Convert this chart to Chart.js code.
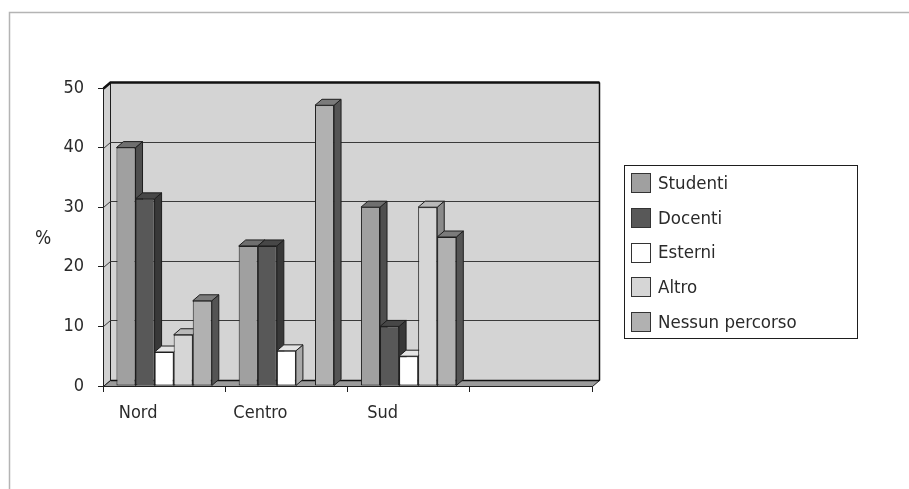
<!DOCTYPE html>
<html>
<head>
<meta charset="utf-8">
<title>Percorsi per area geografica</title>
<script src="https://cdn.jsdelivr.net/npm/chart.js@4.4.1/dist/chart.umd.min.js"></script>
<style>
  html, body { margin: 0; padding: 0; background: #ffffff; }
  #wrap { width: 909px; height: 489px; }
</style>
</head>
<body>
<div id="wrap"><canvas id="chart" width="909" height="489"></canvas></div>
<script>
// Categories and series (percentages)
const categories = ['Nord', 'Centro', 'Sud', ''];
const seriesNames = ['Studenti', 'Docenti', 'Esterni', 'Altro', 'Nessun percorso'];
const studenti = [40, 23.5, 30, null];
const docenti = [31.4, 23.5, 10, null];
const esterni = [5.7, 5.9, 5, null];
const altro = [8.6, 0, 30, null];
const nessunPercorso = [14.3, 47.1, 25, null];
const yTicks = [0, 10, 20, 30, 40, 50];
const yAxisLabel = '%';

// Shading for each series: front, top and side faces of the 3D columns
const frontColors = ['#a0a0a0', '#585858', '#ffffff', '#d6d6d6', '#b1b1b1'];
const topColors   = ['#6f6f6f', '#474747', '#e4e4e4', '#b9b9b9', '#7b7b7b'];
const sideColors  = ['#4e4e4e', '#383838', '#a9a9a9', '#8a8a8a', '#545454'];

const FONT = '"Liberation Sans Narrow", "DejaVu Sans Condensed", "Liberation Sans", sans-serif';
const DX = 7, DY = 6;           // depth of the 3D projection
const LINE = '#1e1e1e';
const TEXT = '#2a2a2a';

const seriesValues = [studenti, docenti, esterni, altro, nessunPercorso];

function poly(ctx, pts, fill, stroke) {
  ctx.beginPath();
  ctx.moveTo(pts[0][0], pts[0][1]);
  for (let i = 1; i < pts.length; i++) ctx.lineTo(pts[i][0], pts[i][1]);
  ctx.closePath();
  if (fill) { ctx.fillStyle = fill; ctx.fill(); }
  if (stroke) { ctx.strokeStyle = stroke; ctx.lineWidth = 1; ctx.stroke(); }
}

// Outer frame of the figure
const framePlugin = {
  id: 'frame',
  beforeDraw(chart) {
    const ctx = chart.ctx;
    ctx.save();
    ctx.strokeStyle = '#b4b4b4';
    ctx.lineWidth = 1.5;
    ctx.beginPath();
    ctx.moveTo(9.5, chart.height);
    ctx.lineTo(9.5, 12.5);
    ctx.lineTo(chart.width, 12.5);
    ctx.stroke();
    ctx.restore();
  }
};

// Walls, floor and the hidden faces of each column
const box3dPlugin = {
  id: 'box3d',
  beforeDatasetsDraw(chart) {
    const ctx = chart.ctx;
    const ys = chart.scales.y;
    const a = chart.chartArea;
    const L = a.left + 0.5, R = a.right + 0.5;
    const T = ys.getPixelForValue(50) + 0.5;
    const B = ys.getPixelForValue(0) + 0.5;
    ctx.save();

    // side wall
    poly(ctx, [[L, T], [L + DX, T - DY], [L + DX, B - DY], [L, B]], '#d0d0d0', LINE);
    // back wall
    poly(ctx, [[L + DX, T - DY], [R + DX, T - DY], [R + DX, B - DY], [L + DX, B - DY]], '#d4d4d4', LINE);

    // gridlines on the back wall and side wall
    ctx.strokeStyle = '#3a3a3a';
    ctx.lineWidth = 1;
    yTicks.forEach(v => {
      if (v === 0 || v === 50) return;
      const y = Math.round(ys.getPixelForValue(v)) + 0.5;
      ctx.beginPath();
      ctx.moveTo(L, y);
      ctx.lineTo(L + DX, y - DY);
      ctx.lineTo(R + DX, y - DY);
      ctx.stroke();
    });

    // heavy top edge of the back wall
    ctx.strokeStyle = '#111111';
    ctx.lineWidth = 2.5;
    ctx.beginPath();
    ctx.moveTo(L, T);
    ctx.lineTo(L + DX, T - DY);
    ctx.lineTo(R + DX, T - DY);
    ctx.stroke();
    ctx.lineWidth = 1.5;
    ctx.beginPath();
    ctx.moveTo(R + DX, T - DY);
    ctx.lineTo(R + DX, B - DY);
    ctx.stroke();

    // floor
    poly(ctx, [[L, B], [L + DX, B - DY], [R + DX, B - DY], [R, B]], '#9b9b9b', LINE);
    ctx.strokeStyle = '#111';
    ctx.lineWidth = 1.5;
    ctx.beginPath();
    ctx.moveTo(L + DX, B - DY);
    ctx.lineTo(R + DX, B - DY);
    ctx.stroke();

    // top and side faces, left to right, so each column covers its left neighbour
    const n = categories.length;
    for (let j = 0; j < n; j++) {
      chart.data.datasets.forEach((ds, i) => {
        const meta = chart.getDatasetMeta(i);
        const el = meta.data[j];
        const v = ds.data[j];
        if (!el || v === null || v === 0) return;
        const x0 = el.x - el.width / 2, x1 = el.x + el.width / 2;
        const yt = el.y, yb = el.base;
        poly(ctx, [[x1, yt], [x1 + DX, yt - DY], [x1 + DX, yb - DY], [x1, yb]], sideColors[i], LINE);
        poly(ctx, [[x0, yt], [x0 + DX, yt - DY], [x1 + DX, yt - DY], [x1, yt]], topColors[i], LINE);
      });
    }
    ctx.restore();
  },
  afterDraw(chart) {
    const ctx = chart.ctx;
    ctx.save();
    // y axis unit
    ctx.fillStyle = TEXT;
    ctx.font = '19px ' + FONT;
    ctx.textAlign = 'center';
    ctx.textBaseline = 'middle';
    ctx.fillText(yAxisLabel, 43, 239);

    // legend box
    const lx = 624.5, ly = 165.5, lw = 233, lh = 173;
    ctx.fillStyle = '#ffffff';
    ctx.fillRect(lx, ly, lw, lh);
    ctx.strokeStyle = LINE;
    ctx.lineWidth = 1;
    ctx.strokeRect(lx, ly, lw, lh);
    ctx.textAlign = 'left';
    ctx.font = '18.5px ' + FONT;
    chart.data.datasets.forEach((ds, i) => {
      const cy = 183 + i * 34.8;
      ctx.fillStyle = frontColors[i];
      ctx.fillRect(631.5, Math.round(cy - 10) + 0.5, 19, 19);
      ctx.strokeStyle = '#333';
      ctx.strokeRect(631.5, Math.round(cy - 10) + 0.5, 19, 19);
      ctx.fillStyle = TEXT;
      ctx.fillText(ds.label, 658, cy + 1);
    });
    ctx.restore();
  }
};

const datasets = seriesNames.map((name, i) => ({
  label: name,
  data: seriesValues[i],
  backgroundColor: frontColors[i],
  borderColor: LINE,
  borderWidth: 1,
  borderSkipped: false,
  categoryPercentage: 0.78,
  barPercentage: 1.0
}));

new Chart(document.getElementById('chart'), {
  type: 'bar',
  data: { labels: categories, datasets },
  options: {
    responsive: false,
    animation: false,
    devicePixelRatio: 1,
    layout: { padding: { left: 0, right: 317, top: 88, bottom: 43 } },
    plugins: {
      legend: { display: false },
      tooltip: { enabled: false }
    },
    scales: {
      y: {
        min: 0,
        max: 50,
        afterFit(scale) { scale.width = 103; },
        afterBuildTicks(scale) { scale.ticks = yTicks.map(v => ({ value: v })); },
        ticks: { color: TEXT, padding: 14, font: { family: FONT, size: 18 } },
        grid: { drawOnChartArea: false, tickLength: 5, color: LINE },
        border: { color: LINE }
      },
      x: {
        afterFit(scale) { scale.height = 60; },
        ticks: { color: TEXT, padding: 11, labelOffset: -26, font: { family: FONT, size: 18 } },
        grid: { drawOnChartArea: false, tickLength: 6, color: LINE, offset: true },
        border: { color: LINE }
      }
    }
  },
  plugins: [framePlugin, box3dPlugin]
});
</script>
</body>
</html>
